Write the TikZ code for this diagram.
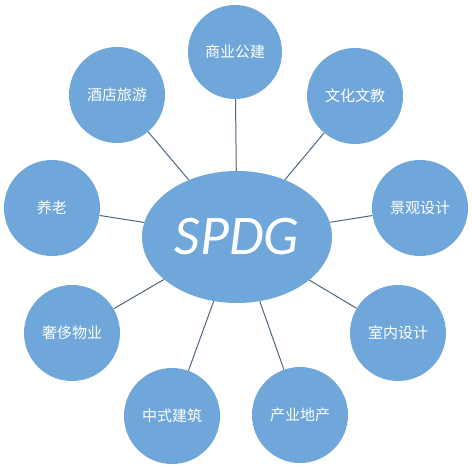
\documentclass[tikz,border=0pt]{standalone}
\usetikzlibrary{shapes.geometric}
\usepackage{fontspec}
\setmainfont{Carlito}
\newfontfamily\cjk{Noto Sans CJK SC}
\definecolor{bubble}{RGB}{111,167,218}
\definecolor{spoke}{RGB}{78,102,128}
\begin{document}
\begin{tikzpicture} [x=1pt, y=-1pt,
  sat/.style={circle, fill=bubble, minimum size=96pt, inner sep=0pt, text=white, font=\cjk\fontsize{15}{15}\selectfont},
  hub/.style={ellipse, fill=bubble, minimum width=190pt, minimum height=132pt, inner sep=0pt, text=white, font=\itshape\fontsize{56}{56}\selectfont},
  link/.style={draw=spoke, line width=1pt}]
\useasboundingbox (0,0) rectangle (472,468);
%\tikzstyle{every node}=[draw];
\node [hub] (core) at (237,237) {SPDG};
\node [sat, minimum size=94pt] (sy) at (235,52) {商业公建};
\node [sat] (wh) at (355,96) {文化文教};
\node [sat] (jg) at (420,208) {景观设计};
\node [sat] (sn) at (398,333) {室内设计};
\node [sat] (cy) at (300,415) {产业地产};
\node [sat] (zs) at (172,416) {中式建筑};
\node [sat] (sc) at (72,333) {奢侈物业};
\node [sat] (yl) at (52,208) {养老};
\node [sat] (jd) at (117,95) {酒店旅游};
\draw [link] (core) -- (sy) (core) -- (wh) (core) -- (jg)
(core) -- (sn) (core) -- (cy) (core) -- (zs)
(core) -- (sc) (core) -- (yl) (core) -- (jd);
\end{tikzpicture}
\end{document}
